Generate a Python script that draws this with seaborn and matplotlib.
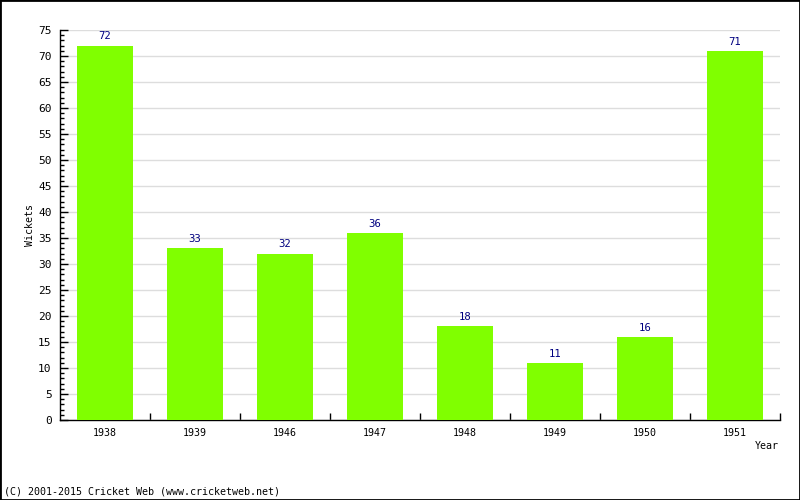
import matplotlib
matplotlib.use("Agg")
import matplotlib.pyplot as plt
import seaborn as sns
import pandas as pd
from matplotlib.ticker import MultipleLocator
from matplotlib.patches import Rectangle

years = ["1938", "1939", "1946", "1947", "1948", "1949", "1950", "1951"]
wickets = [72, 33, 32, 36, 18, 11, 16, 71]

df = pd.DataFrame({"Year": years, "Wickets": wickets})

sns.set_style("white")
plt.rcParams['font.family'] = ['DejaVu Sans Mono', 'DejaVu Sans']
FS = 7.2

fig = plt.figure(figsize=(8, 5), dpi=100)
ax = fig.add_axes([0.075, 0.16, 0.9, 0.78])

sns.barplot(data=df, x="Year", y="Wickets", color="#80FF00", saturation=1,
            width=0.615, linewidth=0, edgecolor="none", ax=ax, zorder=3)

ax.set_ylim(0, 75)
ax.set_xlim(-0.5, len(years) - 0.5)
ax.yaxis.set_major_locator(MultipleLocator(5))
ax.yaxis.set_minor_locator(MultipleLocator(1))
ax.grid(axis="y", which="major", color="#dddddd", linewidth=1, zorder=0)
ax.grid(axis="x", visible=False)
ax.set_axisbelow(True)

for s in ["top", "right"]:
    ax.spines[s].set_visible(False)
for s in ["left", "bottom"]:
    ax.spines[s].set_color("black")
    ax.spines[s].set_linewidth(1)

ax.tick_params(axis="y", which="both", left=True)
ax.tick_params(axis="y", which="major", direction="in", length=6, width=1,
               labelsize=FS + 0.8, pad=6, colors="black")
ax.tick_params(axis="y", which="minor", direction="in", length=3, width=1,
               color="black")
# x ticks at category boundaries, pointing inward
ax.set_xticks(range(len(years)))
ax.set_xticklabels(years)
ax.tick_params(axis="x", which="major", bottom=False, length=0,
               labelsize=FS, pad=6, labelcolor="black")
ax.set_xticks([i + 0.5 for i in range(len(years))], minor=True)
ax.tick_params(axis="x", which="minor", bottom=True, direction="in",
               length=5, width=1, color="black")

for p, v in zip(ax.patches, wickets):
    ax.annotate(str(v), (p.get_x() + p.get_width() / 2, p.get_height()),
                xytext=(0, 3), textcoords="offset points",
                ha="center", va="bottom", fontsize=FS + 0.5, color="#000080")

ax.set_xlabel("")
ax.set_ylabel("Wickets", fontsize=FS, labelpad=2, color="black")
fig.text(779 / 800, 1 - 446 / 500, "Year", ha="right", va="center",
         fontsize=FS, color="black")
fig.text(4 / 800, 1 - 492 / 500, "(C) 2001-2015 Cricket Web (www.cricketweb.net)",
         ha="left", va="center", fontsize=FS, color="black")

fig.patches.append(Rectangle((0, 0), 1, 1, transform=fig.transFigure,
                             fill=False, edgecolor="black", linewidth=2))

fig.savefig("out.png", dpi=100, facecolor="white")
